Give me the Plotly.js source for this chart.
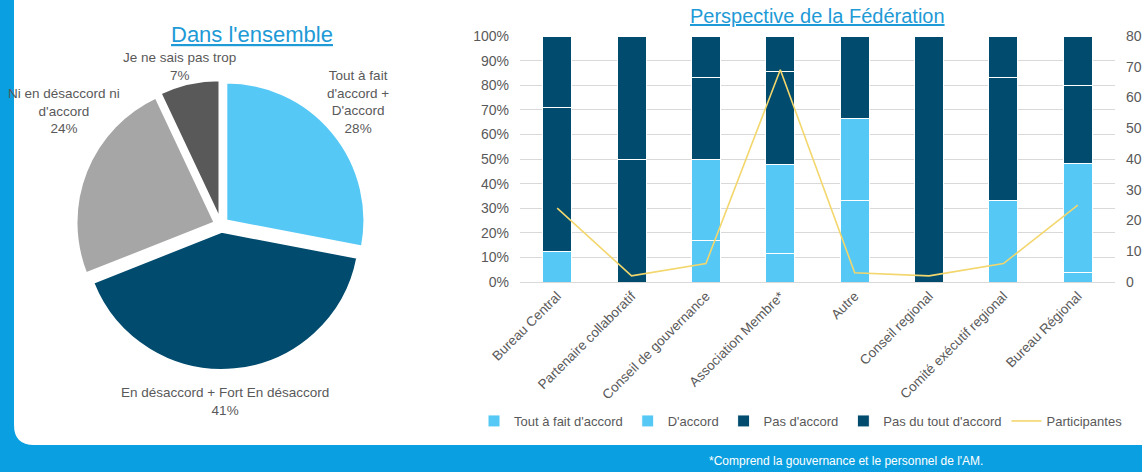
<!DOCTYPE html>
<html>
<head>
<meta charset="utf-8">
<script src="https://cdn.plot.ly/plotly-3.0.1.min.js"></script>
<style>html,body{margin:0;padding:0;background:#0a9fe0;}#chart{width:1142px;height:472px;}</style>
</head>
<body>
<div id="chart"></div>
<script>
// Pie ("Dans l'ensemble")
const pieLabels = ["Tout à fait<br>d'accord +<br>D'accord", "En désaccord + Fort En désaccord", "Ni en désaccord ni<br>d'accord", "Je ne sais pas trop"];
const pieValues = [28, 41, 24, 7];
const pieColors = ["#55c8f5", "#004b6e", "#a6a6a6", "#595959"];

// Stacked bars ("Perspective de la Fédération")
const categories = ["Bureau Central", "Partenaire collaboratif", "Conseil de gouvernance", "Association Membre*", "Autre", "Conseil regional", "Comité exécutif regional", "Bureau Régional"];
const toutAFait = [0, 0, 16.7, 11.6, 33.3, 0, 0, 4];
const dAccord = [12.5, 0, 33.3, 36.2, 33.3, 0, 33.3, 44];
const pasDAccord = [58.3, 50, 33.3, 37.7, 33.3, 100, 50, 32];
const pasDuTout = [29.2, 50, 16.7, 14.5, 0, 0, 16.7, 20];
const participantes = [24, 2, 6, 69, 3, 2, 6, 25];

const LIGHT = "#55c8f5", DARK = "#004b6e", GREY = "#595959", FONT = "'Liberation Sans', Arial, sans-serif";

function bar(name, vals, color) {
  return {type: "bar", name: name, x: categories, y: vals, marker: {color: color, line: {color: "#ffffff", width: 1}}, xaxis: "x", yaxis: "y"};
}

const traces = [
  {type: "pie", labels: pieLabels, values: pieValues, sort: false, direction: "clockwise", rotation: 0,
   marker: {colors: pieColors, line: {color: "#ffffff", width: 2}}, pull: [0.05, 0.05, 0.05, 0.05],
   textinfo: "none", hoverinfo: "label+percent", showlegend: false,
   domain: {x: [76/1142, 366/1142], y: [102/472, 392/472]}},
  bar("Tout à fait d'accord", toutAFait, LIGHT),
  bar("D'accord", dAccord, LIGHT),
  bar("Pas d'accord", pasDAccord, DARK),
  bar("Pas du tout d'accord", pasDuTout, DARK),
  {type: "scatter", mode: "lines", name: "Participantes", x: categories, y: participantes,
   line: {color: "#f3d66c", width: 1.6}, xaxis: "x", yaxis: "y2"}
];

const pieLabelPos = [[358, 102], [225, 401], [64, 111], [180, 67]];
const annotations = pieLabels.map((l, i) => ({
  text: l + "<br>" + pieValues[i] + "%", x: pieLabelPos[i][0] / 1142, y: 1 - pieLabelPos[i][1] / 472,
  xref: "paper", yref: "paper", showarrow: false, xanchor: "center", yanchor: "middle",
  font: {family: FONT, size: 13.5, color: GREY}
}));
annotations.push({text: "<u>Dans l'ensemble</u>", x: 252/1142, y: 1 - 34/472, xref: "paper", yref: "paper", showarrow: false,
  xanchor: "center", yanchor: "middle", font: {family: FONT, size: 22, color: "#1e9ad6"}});
annotations.push({text: "<u>Perspective de la Fédération</u>", x: 817/1142, y: 1 - 16/472, xref: "paper", yref: "paper", showarrow: false,
  xanchor: "center", yanchor: "middle", font: {family: FONT, size: 20, color: "#1e9ad6"}});
annotations.push({text: "*Comprend la gouvernance et le personnel de l'AM.", x: 846/1142, y: 1 - 461/472, xref: "paper", yref: "paper", showarrow: false,
  xanchor: "center", yanchor: "middle", font: {family: FONT, size: 12, color: "#ffffff"}});

const xl = 14/1142, yb = 27/472, rx = 20/1142, ry = 20/472;
const layout = {
  width: 1142, height: 472, margin: {l: 0, r: 0, t: 0, b: 0, autoexpand: false},
  paper_bgcolor: "#0a9fe0", plot_bgcolor: "rgba(0,0,0,0)",
  font: {family: FONT, color: GREY},
  barmode: "stack", bargap: 0.61,
  shapes: [{type: "path", xref: "paper", yref: "paper", layer: "below",
    path: `M ${xl},1.05 L ${xl},${yb + ry} Q ${xl},${yb} ${xl + rx},${yb} L 1.05,${yb} L 1.05,1.05 Z`,
    fillcolor: "#ffffff", line: {width: 0}}],
  xaxis: {domain: [520/1142, 1115/1142], anchor: "y", tickangle: -45, tickfont: {family: FONT, size: 13.5, color: GREY},
    showline: true, linecolor: "#d9d9d9", linewidth: 1, ticks: "", showgrid: false, fixedrange: true, automargin: false},
  yaxis: {domain: [190/472, 436/472], anchor: "x", range: [0, 100], dtick: 10, ticksuffix: "%",
    gridcolor: "#d9d9d9", gridwidth: 1, zeroline: false, ticklabelstandoff: 10, automargin: false,
    tickfont: {family: FONT, size: 14, color: GREY}, fixedrange: true},
  yaxis2: {overlaying: "y", side: "right", anchor: "x", range: [0, 80], dtick: 10, showgrid: false, zeroline: false,
    ticklabelstandoff: 10, automargin: false, tickfont: {family: FONT, size: 14, color: GREY}, fixedrange: true},
  legend: {orientation: "h", x: 474/1142, xanchor: "left", y: 1 - 421/472, yanchor: "middle", traceorder: "normal",
    font: {family: FONT, size: 13, color: GREY}, bgcolor: "rgba(0,0,0,0)"},
  annotations: annotations
};

Plotly.newPlot("chart", traces, layout, {displayModeBar: false, staticPlot: true});
</script>
</body>
</html>
